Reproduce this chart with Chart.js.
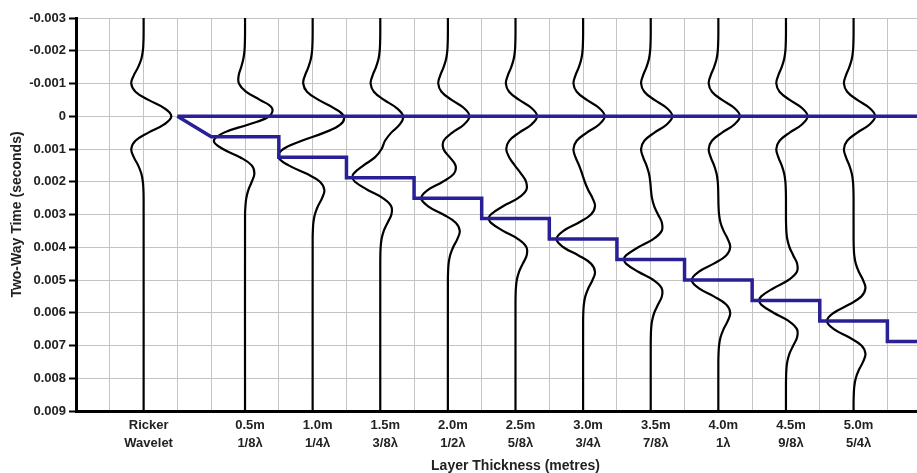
<!DOCTYPE html>
<html>
<head>
<meta charset="utf-8">
<script src="https://cdn.jsdelivr.net/npm/chart.js@4/dist/chart.umd.min.js"></script>
<style>
    html, body { margin: 0; padding: 0; overflow: hidden; background: #fff; }
</style>
</head>
<body>
<canvas id="wedgeChart" width="960" height="473"></canvas>
<script>
// trace positions on the x axis (one grid cell = one unit) and their labels
const tracePositions = [2, 5, 7, 9, 11, 13, 15, 17, 19, 21, 23];
const traceLabels = [
    ['Ricker', 'Wavelet'], ['0.5m', '1/8λ'], ['1.0m', '1/4λ'], ['1.5m', '3/8λ'],
    ['2.0m', '1/2λ'], ['2.5m', '5/8λ'], ['3.0m', '3/4λ'], ['3.5m', '7/8λ'],
    ['4.0m', '1λ'], ['4.5m', '9/8λ'], ['5.0m', '5/4λ']
];

// wiggle traces: [time in ms, amplitude] (Ricker peak = 1)
const ricker = [[-2.5,0],[-2.25,-0.007],[-2,-0.027],[-1.75,-0.083],[-1.5,-0.197],[-1.25,-0.354],[-1,-0.446],[-0.75,-0.296],[-0.5,0.172],[-0.25,0.74],[0,1],[0.25,0.74],[0.5,0.172],[0.75,-0.296],[1,-0.446],[1.25,-0.354],[1.5,-0.197],[1.75,-0.083],[2,-0.027],[2.25,-0.007],[2.5,0]];
const wedge05 = [[-2.5,0],[-2.25,-0.006],[-2,-0.02],[-1.75,-0.062],[-1.5,-0.14],[-1.25,-0.229],[-1,-0.221],[-0.75,0.032],[-0.5,0.536],[-0.25,0.972],[0,0.872],[0.25,0.128],[0.5,-0.76],[0.75,-1.125],[1,-0.797],[1.25,-0.184],[1.5,0.241],[1.75,0.337],[2,0.242],[2.25,0.121],[2.5,0.046],[2.75,0.014],[3,0]];
const wedge10 = [[-2.5,0],[-2.25,-0.006],[-2,-0.021],[-1.75,-0.065],[-1.5,-0.154],[-1.25,-0.275],[-1,-0.341],[-0.75,-0.205],[-0.5,0.213],[-0.25,0.766],[0,1.12],[0.25,1.005],[0.5,0.418],[0.75,-0.396],[1,-1.058],[1.25,-1.236],[1.5,-0.864],[1.75,-0.23],[2,0.263],[2.25,0.422],[2.5,0.339],[2.75,0.189],[3,0.079],[3.25,0.026],[3.5,0.007],[3.75,0]];
const wedge15 = [[-2.5,0],[-2.25,-0.006],[-2,-0.021],[-1.75,-0.065],[-1.5,-0.154],[-1.25,-0.276],[-1,-0.348],[-0.75,-0.23],[-0.5,0.137],[-0.25,0.591],[0,0.827],[0.25,0.704],[0.5,0.397],[0.75,0.171],[1,0.047],[1.25,-0.184],[1.5,-0.603],[1.75,-0.959],[1.875,-0.998],[2,-0.915],[2.25,-0.455],[2.5,0.091],[2.75,0.395],[3,0.402],[3.25,0.263],[3.5,0.127],[3.75,0.047],[4,0.014],[4.25,0.003],[4.5,0]];
const wedge20 = [[-2.5,0],[-2.25,-0.006],[-2,-0.021],[-1.75,-0.065],[-1.5,-0.154],[-1.25,-0.275],[-1,-0.348],[-0.75,-0.231],[-0.5,0.134],[-0.25,0.577],[0,0.781],[0.25,0.584],[0.5,0.16],[0.75,-0.152],[1,-0.159],[1.25,0.064],[1.5,0.274],[1.75,0.219],[2,-0.186],[2.25,-0.716],[2.5,-0.961],[2.75,-0.71],[3,-0.165],[3.25,0.284],[3.5,0.428],[3.75,0.34],[4,0.189],[4.25,0.079],[4.5,0.026],[4.75,0.007],[5,0]];
const wedge25 = [[-2.5,0],[-2.25,-0.006],[-2,-0.021],[-1.75,-0.065],[-1.5,-0.154],[-1.25,-0.276],[-1,-0.348],[-0.75,-0.231],[-0.5,0.134],[-0.25,0.577],[0,0.78],[0.25,0.577],[0.5,0.135],[0.75,-0.228],[1,-0.334],[1.25,-0.229],[1.5,-0.027],[1.75,0.198],[2,0.381],[2.25,0.389],[2.5,0.091],[2.75,-0.449],[3,-0.894],[3.125,-0.96],[3.25,-0.894],[3.5,-0.449],[3.75,0.092],[4,0.395],[4.25,0.402],[4.5,0.263],[4.75,0.127],[5,0.047],[5.25,0.014],[5.5,0.003],[5.75,0]];
const wedge30 = [[-2.5,0],[-2.25,-0.006],[-2,-0.021],[-1.75,-0.065],[-1.5,-0.154],[-1.25,-0.276],[-1,-0.348],[-0.75,-0.231],[-0.5,0.134],[-0.25,0.577],[0,0.78],[0.25,0.577],[0.5,0.134],[0.75,-0.231],[1,-0.348],[1.25,-0.275],[1.5,-0.147],[1.75,-0.039],[2,0.058],[2.25,0.183],[2.5,0.339],[2.75,0.428],[3,0.284],[3.25,-0.165],[3.5,-0.71],[3.75,-0.96],[4,-0.71],[4.25,-0.165],[4.5,0.284],[4.75,0.428],[5,0.34],[5.25,0.189],[5.5,0.079],[5.75,0.026],[6,0.007],[6.25,0]];
const wedge35 = [[-2.5,0],[-2.25,-0.006],[-2,-0.021],[-1.75,-0.065],[-1.5,-0.154],[-1.25,-0.276],[-1,-0.348],[-0.75,-0.231],[-0.5,0.134],[-0.25,0.577],[0,0.78],[0.25,0.577],[0.5,0.134],[0.75,-0.231],[1,-0.348],[1.25,-0.276],[1.5,-0.154],[1.75,-0.064],[2,-0.018],[2.25,0.008],[2.5,0.046],[2.75,0.127],[3,0.263],[3.25,0.402],[3.5,0.395],[3.75,0.092],[4,-0.449],[4.25,-0.894],[4.375,-0.96],[4.5,-0.894],[4.75,-0.449],[5,0.092],[5.25,0.395],[5.5,0.402],[5.75,0.263],[6,0.127],[6.25,0.047],[6.5,0.014],[6.75,0.003],[7,0]];
const wedge40 = [[-2.5,0],[-2.25,-0.006],[-2,-0.021],[-1.75,-0.065],[-1.5,-0.154],[-1.25,-0.276],[-1,-0.348],[-0.75,-0.231],[-0.5,0.134],[-0.25,0.577],[0,0.78],[0.25,0.577],[0.5,0.134],[0.75,-0.231],[1,-0.348],[1.25,-0.276],[1.5,-0.154],[1.75,-0.065],[2,-0.021],[2.25,-0.006],[2.5,0],[2.75,0.007],[3,0.026],[3.25,0.079],[3.5,0.189],[3.75,0.34],[4,0.428],[4.25,0.284],[4.5,-0.165],[4.75,-0.71],[5,-0.96],[5.25,-0.71],[5.5,-0.165],[5.75,0.284],[6,0.428],[6.25,0.34],[6.5,0.189],[6.75,0.079],[7,0.026],[7.25,0.007],[7.5,0]];
const wedge45 = [[-2.5,0],[-2.25,-0.006],[-2,-0.021],[-1.75,-0.065],[-1.5,-0.154],[-1.25,-0.276],[-1,-0.348],[-0.75,-0.231],[-0.5,0.134],[-0.25,0.577],[0,0.78],[0.25,0.577],[0.5,0.134],[0.75,-0.231],[1,-0.348],[1.25,-0.276],[1.5,-0.154],[1.75,-0.065],[2,-0.021],[2.25,-0.006],[2.5,0],[3,0],[3.25,0.003],[3.5,0.014],[3.75,0.047],[4,0.127],[4.25,0.263],[4.5,0.402],[4.75,0.395],[5,0.092],[5.25,-0.449],[5.5,-0.894],[5.625,-0.96],[5.75,-0.894],[6,-0.449],[6.25,0.092],[6.5,0.395],[6.75,0.402],[7,0.263],[7.25,0.127],[7.5,0.047],[7.75,0.014],[8,0.003],[8.25,0]];
const wedge50 = [[-2.5,0],[-2.25,-0.006],[-2,-0.021],[-1.75,-0.065],[-1.5,-0.154],[-1.25,-0.276],[-1,-0.348],[-0.75,-0.231],[-0.5,0.134],[-0.25,0.577],[0,0.78],[0.25,0.577],[0.5,0.134],[0.75,-0.231],[1,-0.348],[1.25,-0.276],[1.5,-0.154],[1.75,-0.065],[2,-0.021],[2.25,-0.006],[2.5,0],[3.75,0],[4,0.007],[4.25,0.026],[4.5,0.079],[4.75,0.189],[5,0.34],[5.25,0.428],[5.5,0.284],[5.75,-0.165],[6,-0.71],[6.25,-0.96],[6.5,-0.71],[6.75,-0.165],[7,0.284],[7.25,0.428],[7.5,0.34],[7.75,0.189],[8,0.079],[8.25,0.026],[8.5,0.007],[8.75,0]];
const wiggles = [ricker, wedge05, wedge10, wedge15, wedge20, wedge25, wedge30, wedge35, wedge40, wedge45, wedge50];

// wedge base (blue staircase): x where each step starts and its two-way time
const wedgeTip = 3;
const stepStarts = [4, 6, 8, 10, 12, 14, 16, 18, 20, 22, 24];
const stepTimes = [0.000625, 0.00125, 0.001875, 0.0025, 0.003125, 0.00375, 0.004375, 0.005, 0.005625, 0.00625, 0.006875];

const tMin = -0.003, tMax = 0.009;
const xMax = 26;
const ampScale = 0.82;  // x units per unit amplitude
const FONT = 'Liberation Sans, Arial, sans-serif';
const BLUE = '#2a2096';

renderChart();

function renderChart() {
    const datasets = [];

    // wedge top (flat at t = 0)
    datasets.push({
        data: [{x: wedgeTip, y: 0}, {x: xMax, y: 0}],
        borderColor: BLUE, borderWidth: 3.5, showLine: true, pointRadius: 0
    });

    // wedge base
    const base = [{x: wedgeTip, y: 0}];
    stepStarts.forEach((x, i) => {
        const end = i < stepStarts.length - 1 ? stepStarts[i + 1] : xMax;
        base.push({x: x, y: stepTimes[i]});
        base.push({x: end, y: stepTimes[i]});
    });
    datasets.push({
        data: base,
        borderColor: BLUE, borderWidth: 3.5, showLine: true, pointRadius: 0
    });

    // wiggle traces
    wiggles.forEach((w, i) => {
        const pos = tracePositions[i];
        const pts = [{x: pos, y: tMin}];
        w.forEach(p => pts.push({x: pos + p[1] * ampScale, y: p[0] / 1000}));
        pts.push({x: pos, y: tMax});
        datasets.push({
            data: pts,
            borderColor: '#000', borderWidth: 2.2, showLine: true,
            pointRadius: 0, tension: 0.4
        });
    });

    new Chart(document.getElementById('wedgeChart'), {
        type: 'scatter',
        data: {datasets: datasets},
        options: {
            responsive: false,
            animation: false,
            layout: {padding: {top: 18, left: 0, right: 0, bottom: 0}, autoPadding: false},
            plugins: {legend: {display: false}, tooltip: {enabled: false}},
            scales: {
                x: {
                    type: 'linear', min: 0, max: xMax,
                    afterFit: s => { s.height = 62; },
                    border: {color: '#000', width: 3},
                    grid: {color: '#c4c4c4', lineWidth: 1, drawTicks: false},
                    ticks: {
                        stepSize: 1, autoSkip: false, maxRotation: 0, includeBounds: false,
                        padding: 5, labelOffset: 5, color: '#222',
                        font: {family: FONT, size: 13, weight: 'bold', lineHeight: 1.4},
                        callback: v => {
                            const i = tracePositions.indexOf(v);
                            return i >= 0 ? traceLabels[i] : '';
                        }
                    },
                    title: {
                        display: true, text: 'Layer Thickness (metres)', color: '#222',
                        padding: 0,
                        font: {family: FONT, size: 14, weight: 'bold', lineHeight: 1}
                    }
                },
                y: {
                    type: 'linear', reverse: true, min: tMin, max: tMax,
                    afterFit: s => { s.width = 76; },
                    border: {color: '#000', width: 3},
                    grid: {
                        color: c => c.index === 0 ? '#000' : '#c4c4c4',
                        lineWidth: c => c.index === 0 ? 3 : 1,
                        tickLength: 7, tickColor: '#000', tickWidth: 2
                    },
                    ticks: {
                        stepSize: 0.001, padding: 3, color: '#222',
                        font: {family: FONT, size: 13, weight: 'bold'},
                        callback: v => Math.abs(v) < 1e-9 ? '0' : v.toFixed(3)
                    },
                    title: {
                        display: true, text: 'Two-Way Time (seconds)', color: '#222',
                        padding: {top: 10, bottom: 0},
                        font: {family: FONT, size: 14, weight: 'bold', lineHeight: 1}
                    }
                }
            }
        }
    });
}
</script>
</body>
</html>
